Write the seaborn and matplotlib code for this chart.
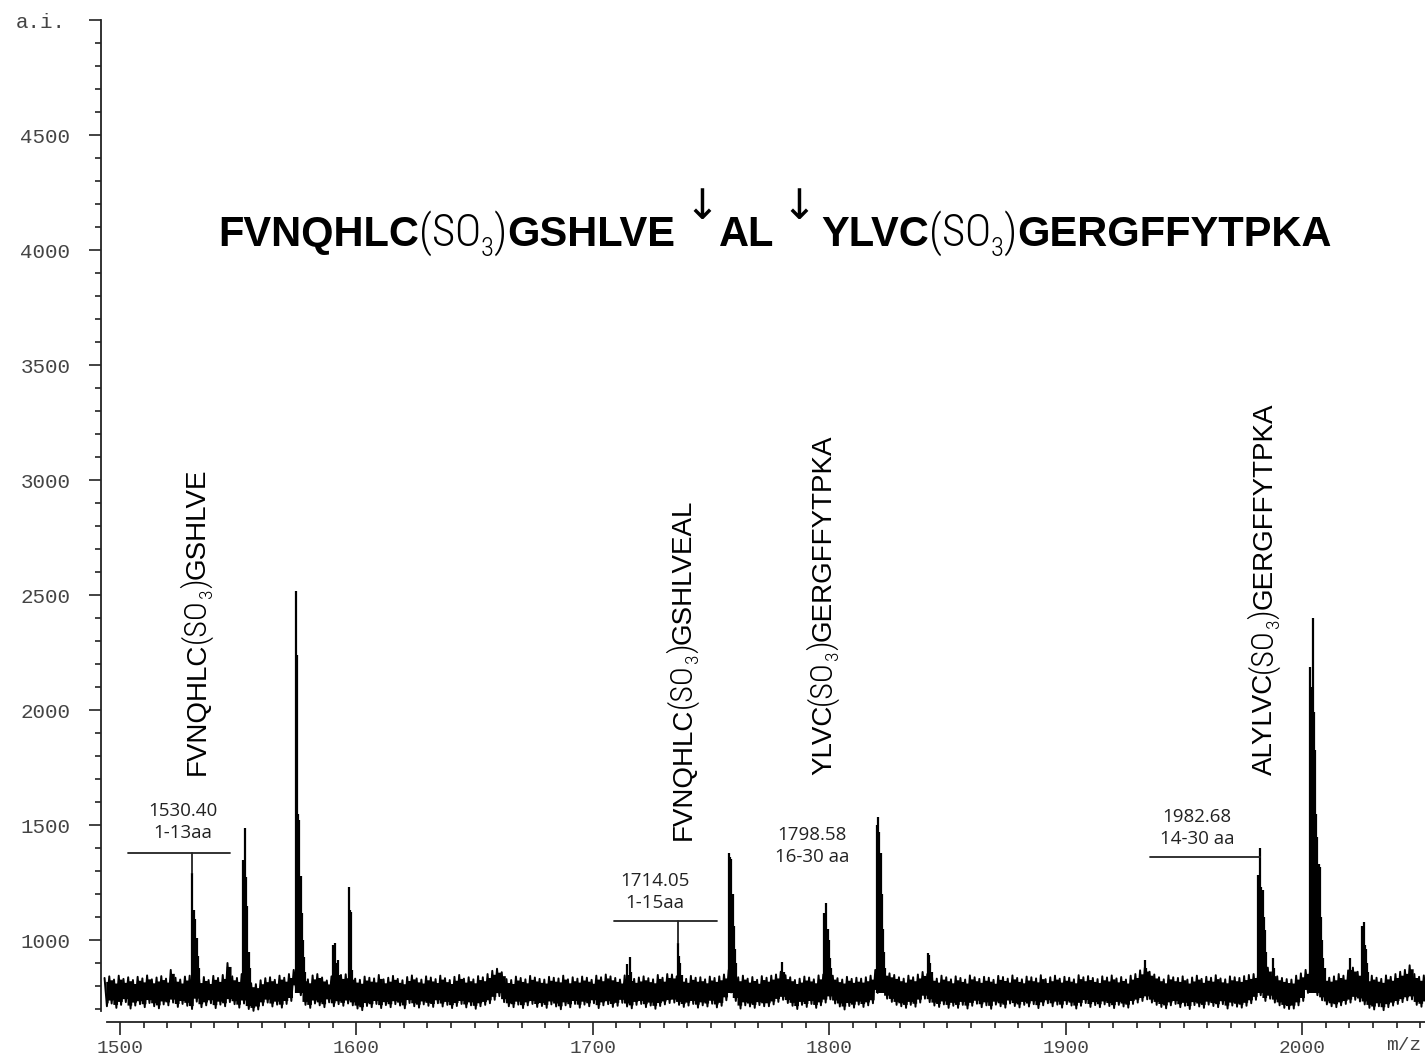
import numpy as np
import pandas as pd
import matplotlib
matplotlib.use("Agg")
import matplotlib.pyplot as plt
import seaborn as sns
from matplotlib.transforms import IdentityTransform, ScaledTranslation
from matplotlib.ticker import FixedLocator

# ---------------- data ----------------
noise_start = 1494
noise_step = 2
noise_hi = [
    835, 842, 828, 845, 831, 838, 826, 840, 833, 846, 829, 837, 843, 832, 870, 836, 828, 841, 845, 850,
    830, 839, 826, 844, 835, 848, 900, 842, 835, 852, 838, 812, 808, 825, 834, 838, 827, 845, 836, 852,
    870, 865, 838, 829, 846, 852, 837, 824, 842, 836, 848, 851, 845, 832, 827, 841, 836, 833, 848, 829,
    836, 844, 831, 825, 839, 846, 833, 828, 842, 837, 830, 845, 834, 826, 840, 848, 832, 838, 829, 843,
    838, 852, 866, 875, 860, 830, 826, 841, 835, 829, 844, 837, 831, 828, 840, 836, 833, 845, 829, 838,
    832, 841, 836, 827, 845, 838, 850, 842, 835, 828, 846, 839, 831, 837, 842, 834, 829, 848, 836, 852,
    850, 842, 836, 831, 844, 836, 838, 829, 841, 835, 842, 850, 870, 848, 838, 845, 832, 839, 827, 843,
    836, 845, 850, 862, 847, 838, 826, 832, 841, 837, 829, 846, 850, 858, 845, 834, 828, 840, 831, 836,
    832, 838, 845, 870, 880, 862, 855, 848, 838, 832, 845, 838, 850, 861, 852, 840, 832, 845, 838, 829,
    842, 835, 828, 846, 838, 831, 840, 836, 827, 844, 839, 832, 846, 835, 829, 841, 838, 833, 847, 830,
    838, 845, 832, 840, 836, 829, 847, 838, 843, 835, 830, 842, 837, 846, 833, 839, 828, 845, 852, 868,
    880, 862, 850, 838, 829, 846, 838, 835, 842, 828, 837, 845, 831, 840, 836, 847, 833, 829, 842, 838,
    835, 843, 848, 852, 865, 845, 880, 860, 842, 835, 830, 828, 845, 855, 870, 880, 852, 848, 840, 836,
    842, 852, 845, 868, 880, 862, 850, 838, 845, 836, 831, 846, 840, 852, 862, 870, 890, 852, 840, 846,
]
noise_lo = [
    712, 724, 705, 718, 730, 702, 715, 721, 708, 726, 712, 703, 720, 716, 728, 709, 722, 714, 700, 732,
    708, 716, 725, 704, 719, 712, 730, 721, 706, 724, 700, 692, 698, 716, 728, 711, 719, 706, 722, 735,
    790, 760, 718, 705, 724, 716, 708, 729, 712, 721, 714, 724, 716, 702, 695, 713, 708, 722, 704, 717,
    708, 721, 715, 703, 726, 712, 706, 720, 714, 709, 725, 711, 718, 704, 713, 722, 707, 716, 701, 712,
    718, 725, 740, 756, 730, 712, 708, 719, 704, 716, 722, 709, 713, 705, 720, 711, 699, 716, 708, 722,
    706, 719, 712, 725, 704, 716, 721, 709, 714, 727, 711, 703, 718, 722, 708, 715, 701, 713, 720, 726,
    728, 718, 709, 715, 722, 706, 716, 711, 723, 707, 714, 738, 772, 735, 702, 716, 711, 705, 717, 712,
    712, 720, 731, 740, 726, 714, 700, 718, 709, 722, 705, 716, 728, 742, 724, 711, 698, 713, 706, 719,
    709, 716, 725, 770, 790, 745, 731, 718, 712, 705, 718, 710, 728, 745, 730, 715, 709, 720, 705, 714,
    705, 718, 702, 714, 723, 708, 716, 701, 719, 712, 706, 724, 713, 707, 718, 711, 721, 704, 716, 725,
    712, 719, 706, 721, 715, 702, 714, 726, 709, 717, 708, 720, 713, 704, 718, 711, 706, 722, 728, 735,
    742, 728, 718, 709, 703, 716, 722, 708, 714, 700, 717, 711, 705, 719, 713, 708, 721, 702, 715, 710,
    706, 714, 725, 740, 760, 735, 745, 728, 716, 705, 700, 702, 716, 735, 770, 790, 760, 738, 720, 712,
    708, 716, 722, 728, 740, 733, 720, 705, 698, 712, 695, 708, 715, 722, 730, 738, 742, 718, 710, 720,
]

peak_mz = [
    1530.4, 1530.9, 1531.4, 1531.9, 1532.4, 1532.9, 1533.4,
    1552.0, 1552.5, 1552.9, 1553.4, 1553.9, 1554.4, 1555.0,
    1574.4, 1574.9, 1575.4, 1575.9, 1576.4, 1576.9, 1577.4, 1577.9, 1578.4,
    1590.0, 1590.5, 1591.1, 1591.6, 1592.2, 1592.8,
    1596.9, 1597.4, 1597.8, 1598.3,
    1714.4, 1715.0, 1715.6, 1716.2,
    1736.0, 1736.5, 1737.0, 1737.6,
    1757.6, 1758.1, 1758.6, 1759.1, 1759.6, 1760.1, 1760.6,
    1780.2, 1780.8,
    1797.8, 1798.3, 1798.8, 1799.3, 1799.8, 1800.3, 1800.8,
    1820.2, 1820.7, 1821.2, 1821.7, 1822.2, 1822.7, 1823.3, 1823.8,
    1841.8, 1842.3, 1842.8, 1843.4,
    1933.6, 1934.2, 1934.8,
    1981.4, 1981.9, 1982.3, 1982.8, 1983.3, 1983.8, 1984.3, 1984.8, 1985.3,
    1987.7, 1988.2,
    2003.4, 2003.9, 2004.6, 2005.1, 2005.5, 2006.0, 2006.5, 2007.0, 2007.5, 2008.0, 2008.5, 2009.0, 2009.5,
    2020.3, 2020.8,
    2025.5, 2026.0, 2026.5, 2027.0, 2027.5, 2028.0,
]
peak_int = [
    1291, 1000, 1130, 1090, 1010, 930, 880,
    1350, 1300, 1487, 1274, 1150, 948, 880,
    2517, 2240, 1550, 1520, 1280, 1117, 1000, 926, 860,
    978, 900, 987, 900, 913, 850,
    1230, 1130, 1120, 870,
    896, 850, 926, 860,
    987, 930, 900, 850,
    1378, 1360, 1352, 1200, 1060, 960, 900,
    904, 860,
    1117, 1050, 1161, 1050, 1000, 920, 880,
    1500, 1535, 1470, 1380, 1200, 1050, 950, 880,
    943, 935, 900, 860,
    913, 880, 860,
    1283, 1250, 1400, 1230, 1217, 1100, 1043, 950, 880,
    922, 880,
    2187, 2100, 2400, 1990, 1826, 1550, 1450, 1330, 1317, 1100, 1000, 920, 880,
    922, 870,
    1060, 1078, 980, 960, 900, 860,
]

x_major = [1500, 1600, 1700, 1800, 1900, 2000]
x_labels = ["1500", "1600", "1700", "1800", "1900", "2000"]
y_major = [1000, 1500, 2000, 2500, 3000, 3500, 4000, 4500, 5000]
y_labels = ["1000", "1500", "2000", "2500", "3000", "3500", "4000", "4500", "a.i."]

# mass annotations
ann_mass = ["1530.40", "1714.05", "1798.58", "1982.68"]
ann_range = ["1-13aa", "1-15aa", "16-30 aa", "14-30 aa"]
ann_text_mz = [1526.6, 1726.3, 1792.7, 1955.6]
ann_text_y = [1426, 1122, 1322, 1400]
bar_left = [1503.4, 1709.0, None, 1935.7]
bar_right = [1546.5, 1752.5, None, 1982.3]
bar_y = [1378, 1083, None, 1361]
bar_peak_mz = [1530.4, 1736.0, None, 1982.3]
bar_peak_top = [1291, 987, None, 1361]

# rotated fragment labels
frag_pre = ["FVNQHLC", "FVNQHLC", "YLVC", "ALYLVC"]
frag_post = ["GSHLVE", "GSHLVEAL", "GERGFFYTPKA", "GERGFFYTPKA"]
frag_mz = [1536.0, 1741.5, 1800.8, 1987.3]
frag_y = [1717, 1435, 1717, 1717]

# title sequence
title_parts = ["FVNQHLC", "GSHLVE", "AL", "YLVC", "GERGFFYTPKA"]

# ---------------- style ----------------
sns.set_theme(style="ticks")
plt.rcParams["font.family"] = ["Liberation Sans", "DejaVu Sans"]

W, H = 1425, 1058
fig = plt.figure(figsize=(W / 100, H / 100), dpi=100)
fig.patch.set_facecolor("white")
ax = fig.add_axes([101 / W, 36 / H, 1324 / W, 1002 / H])
ax.set_facecolor("white")
ax.set_xlim(1492.0, 2052.0)
ax.set_ylim(643.5, 5000)

# noise band
grid = noise_start + noise_step * np.arange(len(noise_hi))
hi = np.array(noise_hi)
lo = np.array(noise_lo)
ax.fill_between(grid, lo + 15, hi - 15, step="mid", color="black", lw=0)
zx = np.ravel(np.column_stack([grid - 0.5, grid + 0.5]))
zy = np.ravel(np.column_stack([hi, lo]))
sns.lineplot(x=zx, y=zy, ax=ax, color="black", lw=1.4, sort=False, estimator=None)

# peaks
ax.vlines(peak_mz, 770, peak_int, color="black", lw=1.6)

# annotation bars & texts
ann_font = dict(family=["Open Sans", "DejaVu Sans"], size=13.5, color="#222222")
for i in range(len(ann_mass)):
    ax.text(ann_text_mz[i], ann_text_y[i], ann_mass[i] + "\n" + ann_range[i],
            ha="center", va="bottom", linespacing=1.3, **ann_font)
    if bar_left[i] is not None:
        ax.plot([bar_left[i], bar_right[i]], [bar_y[i], bar_y[i]], color="#222222", lw=1.3)
        ax.plot([bar_peak_mz[i], bar_peak_mz[i]], [bar_y[i], bar_peak_top[i]], color="#222222", lw=1.3)

# axes styling
for s in ["top", "right"]:
    ax.spines[s].set_visible(False)
ax.spines["left"].set_bounds(690, 5000)
ax.spines["bottom"].set_bounds(1494.5, 2052)
for s in ["left", "bottom"]:
    ax.spines[s].set_color("#222222")
    ax.spines[s].set_linewidth(1.3)

ax.set_xticks(x_major)
ax.set_xticklabels(x_labels)
ax.xaxis.set_minor_locator(FixedLocator(np.arange(1500, 2051, 10)))
ax.set_yticks(y_major)
ax.set_yticklabels(y_labels)
ax.yaxis.set_minor_locator(FixedLocator(np.arange(700, 5000, 100)))
ax.tick_params(axis="both", which="major", direction="out", length=9, width=1.2,
               color="#222222", labelcolor="#444444", labelsize=14)
ax.tick_params(axis="both", which="minor", direction="out", length=4, width=1.2, color="#222222")
ax.tick_params(axis="x", which="major", pad=4)
ax.tick_params(axis="y", which="major", pad=13, labelsize=15)
for lab in ax.get_xticklabels() + ax.get_yticklabels():
    lab.set_family(["Liberation Mono", "DejaVu Sans Mono"])
ylabs = ax.get_yticklabels()
ylabs[-1].set_transform(ylabs[-1].get_transform() + ScaledTranslation(-0.05, 0, fig.dpi_scale_trans))
ax.set_xlabel("")
ax.set_ylabel("")

fig.text(1404 / W, 1 - 1046 / H, "m/z", ha="center", va="center", size=14,
         color="#444444", family=["Liberation Mono", "DejaVu Sans Mono"])

# ---------------- composed texts ----------------
renderer = fig.canvas.get_renderer()
NARROW = ["Liberation Sans Narrow", "Roboto Condensed", "Open Sans Condensed", "Roboto", "Liberation Sans"]


def place_run(x0, y0, pieces, rotation=0):
    pos = 0.0
    for kind, txt, props, shift in pieces:
        if kind == "gap":
            pos += txt
            continue
        props = dict(props)
        va = props.pop("va", "baseline")
        if rotation == 0:
            x, y = x0 + pos, y0 + shift
        else:
            x, y = x0 - shift, y0 + pos
        t = fig.text(x, y, txt, transform=IdentityTransform(), rotation=rotation,
                     rotation_mode="anchor", ha="left", va=va, **props)
        bb = t.get_window_extent(renderer)
        pos += bb.width if rotation == 0 else bb.height
    return pos


bold = dict(family=["Liberation Sans", "DejaVu Sans"], weight="bold", size=30, color="black")
light = dict(family=NARROW, weight="light", size=32, color="black")
sub = dict(family=NARROW, weight="light", size=19, color="black")
arrow = dict(family=["DejaVu Sans"], size=30, color="black", va="center")

title_pieces = [
    ("t", title_parts[0], bold, 0), ("t", "(SO", light, 0), ("t", "3", sub, -10), ("t", ")", light, 0),
    ("t", title_parts[1], bold, 0), ("gap", 9, None, 0), ("t", "\u2193", arrow, 39), ("gap", 0, None, 0),
    ("t", title_parts[2], bold, 0), ("gap", 7, None, 0), ("t", "\u2193", arrow, 39), ("gap", 5, None, 0),
    ("t", title_parts[3], bold, 0), ("t", "(SO", light, 0), ("t", "3", sub, -10), ("t", ")", light, 0),
    ("t", title_parts[4], bold, 0),
]
place_run(218, H - 246, title_pieces, rotation=0)

reg = dict(family=["Liberation Sans", "DejaVu Sans"], size=20, color="black")
lightr = dict(family=NARROW, weight="light", size=23, color="black")
subr = dict(family=NARROW, weight="light", size=14, color="black")
for i in range(len(frag_pre)):
    px, py = ax.transData.transform((frag_mz[i], frag_y[i]))
    pieces = [("t", frag_pre[i], reg, 0), ("t", "(SO", lightr, 0), ("t", "3", subr, -7),
              ("t", ")", lightr, 0), ("t", frag_post[i], reg, 0)]
    place_run(px, py, pieces, rotation=90)

fig.savefig("out.png", dpi=100)
